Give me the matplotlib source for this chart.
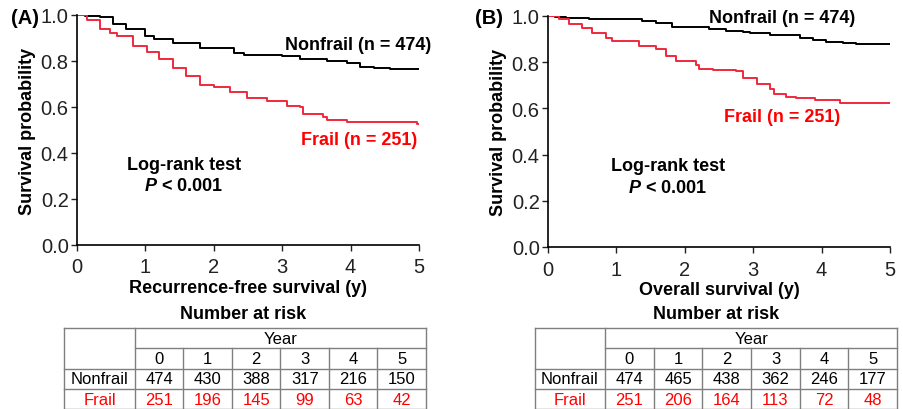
import numpy as np
import matplotlib.pyplot as plt

plt.rcParams['font.family'] = ['Liberation Sans', 'DejaVu Sans']
plt.rcParams['mathtext.fontset'] = 'custom'
plt.rcParams['mathtext.bfit'] = 'Liberation Sans:bold:italic'

# Kaplan-Meier step points (years, survival)
rfs_nonfrail_t = [0, 0.12, 0.33, 0.53, 0.72, 1.0, 1.12, 1.4, 1.8, 2.3, 2.44, 3.0, 3.26, 3.66, 3.95, 4.14, 4.34, 4.58, 5.0]
rfs_nonfrail_s = [1.0, 0.995, 0.99, 0.96, 0.94, 0.91, 0.895, 0.88, 0.855, 0.835, 0.825, 0.82, 0.81, 0.80, 0.79, 0.775, 0.768, 0.765, 0.765]
rfs_frail_t = [0, 0.14, 0.33, 0.48, 0.58, 0.82, 1.02, 1.2, 1.4, 1.6, 1.8, 2.0, 2.24, 2.48, 2.78, 3.07, 3.26, 3.31, 3.6, 3.66, 3.95, 4.97, 5.0]
rfs_frail_s = [1.0, 0.98, 0.94, 0.92, 0.91, 0.865, 0.84, 0.81, 0.77, 0.735, 0.695, 0.685, 0.664, 0.638, 0.628, 0.606, 0.60, 0.57, 0.556, 0.545, 0.534, 0.524, 0.524]

os_nonfrail_t = [0, 0.1, 0.26, 0.6, 1.38, 1.58, 1.82, 2.36, 2.6, 2.85, 2.95, 3.24, 3.68, 3.88, 4.07, 4.32, 4.51, 5.0]
os_nonfrail_s = [1.0, 0.997, 0.993, 0.986, 0.978, 0.971, 0.954, 0.945, 0.935, 0.93, 0.925, 0.916, 0.906, 0.896, 0.889, 0.884, 0.877, 0.877]
os_frail_t = [0, 0.16, 0.31, 0.5, 0.65, 0.85, 0.94, 1.33, 1.58, 1.72, 1.87, 2.17, 2.21, 2.41, 2.75, 2.85, 3.05, 3.24, 3.31, 3.48, 3.63, 3.9, 4.27, 5.0]
os_frail_s = [1.0, 0.986, 0.964, 0.95, 0.928, 0.906, 0.892, 0.87, 0.856, 0.827, 0.805, 0.79, 0.772, 0.766, 0.762, 0.733, 0.704, 0.683, 0.661, 0.651, 0.643, 0.636, 0.625, 0.625]

years = [0, 1, 2, 3, 4, 5]
rfs_risk_nonfrail = [474, 430, 388, 317, 216, 150]
rfs_risk_frail = [251, 196, 145, 99, 63, 42]
os_risk_nonfrail = [474, 465, 438, 362, 246, 177]
os_risk_frail = [251, 206, 164, 113, 72, 48]

RED_LINE = '#f0283c'
RED_TEXT = '#ff0000'

fig = plt.figure(figsize=(9.04, 4.10), dpi=100)
W, H = 904, 410


def px_axes(x0, y0, x1, y1):
    # pixel box (top-left origin) -> figure axes
    return fig.add_axes([x0 / W, 1 - y1 / H, (x1 - x0) / W, (y1 - y0) / H])


def km_panel(box, nf_t, nf_s, fr_t, fr_s, xlabel, letter, letter_x,
             nf_pos, fr_pos, lr_pos):
    ax = px_axes(*box)
    ax.step(nf_t, nf_s, where='post', color='black', lw=1.4)
    ax.step(fr_t, fr_s, where='post', color=RED_LINE, lw=1.4)
    ax.set_xlim(0, 5.0)
    ax.set_ylim(0, 1.0)
    ax.set_xticks(years)
    ax.set_yticks(np.arange(0, 1.01, 0.2))
    ax.set_yticklabels([f'{v:.1f}' for v in np.arange(0, 1.01, 0.2)])
    ax.tick_params(labelsize=14.5, length=4, width=1, pad=2, colors='#222222')
    ax.tick_params(axis='x', pad=5)
    for s in ['top', 'right']:
        ax.spines[s].set_visible(False)
    for s in ['left', 'bottom']:
        ax.spines[s].set_linewidth(1.2)
    ax.set_xlabel(xlabel, fontsize=13, fontweight='bold', labelpad=2)
    ax.set_ylabel('Survival probability', fontsize=13, fontweight='bold', labelpad=3)
    ax.text(nf_pos[0], nf_pos[1], 'Nonfrail (n = 474)', fontsize=13, fontweight='bold',
            ha='right', va='center', color='black')
    ax.text(fr_pos[0], fr_pos[1], 'Frail (n = 251)', fontsize=13, fontweight='bold',
            ha='right', va='center', color=RED_TEXT)
    ax.text(lr_pos[0], lr_pos[1], 'Log-rank test', fontsize=13, fontweight='bold',
            ha='center', va='center')
    ax.text(lr_pos[0], lr_pos[1] - 0.095, r'$\bfit{P}$ < 0.001', fontsize=13,
            fontweight='bold', ha='center', va='center')
    fig.text(letter_x / W, 1 - 18 / H, letter, fontsize=14.5, fontweight='bold',
             ha='left', va='center')
    return ax


km_panel((77, 16, 419, 246), rfs_nonfrail_t, rfs_nonfrail_s, rfs_frail_t, rfs_frail_s,
         'Recurrence-free survival (y)', '(A)', 11,
         (5.18, 0.87), (4.97, 0.46), (1.56, 0.352))
km_panel((548, 17, 890, 248), os_nonfrail_t, os_nonfrail_s, os_frail_t, os_frail_s,
         'Overall survival (y)', '(B)', 475,
         (4.49, 0.995), (4.27, 0.563), (1.75, 0.352))


def risk_table(x0, first_w, col_w, top, title_cx, nonfrail, frail):
    row_h = 20.3
    ax = fig.add_axes([0, 0, 1, 1])
    ax.set_xlim(0, W)
    ax.set_ylim(H, 0)
    ax.axis('off')
    gc = '#7f7f7f'
    x_end = x0 + first_w + col_w * len(years)
    bottom = top + 4 * row_h
    # outer frame and grid
    ax.plot([x0, x_end], [top, top], color=gc, lw=1)
    ax.plot([x0, x_end], [bottom, bottom], color=gc, lw=1)
    ax.plot([x0, x0], [top, bottom], color=gc, lw=1)
    ax.plot([x_end, x_end], [top, bottom], color=gc, lw=1)
    ax.plot([x0 + first_w, x0 + first_w], [top, bottom], color=gc, lw=1)
    ax.plot([x0 + first_w, x_end], [top + row_h, top + row_h], color=gc, lw=1)
    for r in (2, 3):
        ax.plot([x0, x_end], [top + r * row_h] * 2, color=gc, lw=1)
    for i in range(1, len(years)):
        xx = x0 + first_w + i * col_w
        ax.plot([xx, xx], [top + row_h, bottom], color=gc, lw=1)
    ax.text(title_cx, top - 14, 'Number at risk', fontsize=13, fontweight='bold',
            ha='center', va='center')
    ax.text(x0 + first_w + col_w * len(years) / 2, top + row_h / 2, 'Year',
            fontsize=12, ha='center', va='center')
    for i, y in enumerate(years):
        cx = x0 + first_w + (i + 0.5) * col_w
        ax.text(cx, top + 1.5 * row_h, str(y), fontsize=12, ha='center', va='center')
        ax.text(cx, top + 2.5 * row_h, str(nonfrail[i]), fontsize=12, ha='center', va='center')
        ax.text(cx, top + 3.5 * row_h, str(frail[i]), fontsize=12, ha='center',
                va='center', color=RED_TEXT)
    ax.text(x0 + first_w / 2, top + 2.5 * row_h, 'Nonfrail', fontsize=12,
            ha='center', va='center')
    ax.text(x0 + first_w / 2, top + 3.5 * row_h, 'Frail', fontsize=12,
            ha='center', va='center', color=RED_TEXT)


risk_table(64, 71, 48.5, 329, 243, rfs_risk_nonfrail, rfs_risk_frail)
risk_table(535, 70, 48.7, 329, 716, os_risk_nonfrail, os_risk_frail)

fig.savefig('out.png', dpi=100)
